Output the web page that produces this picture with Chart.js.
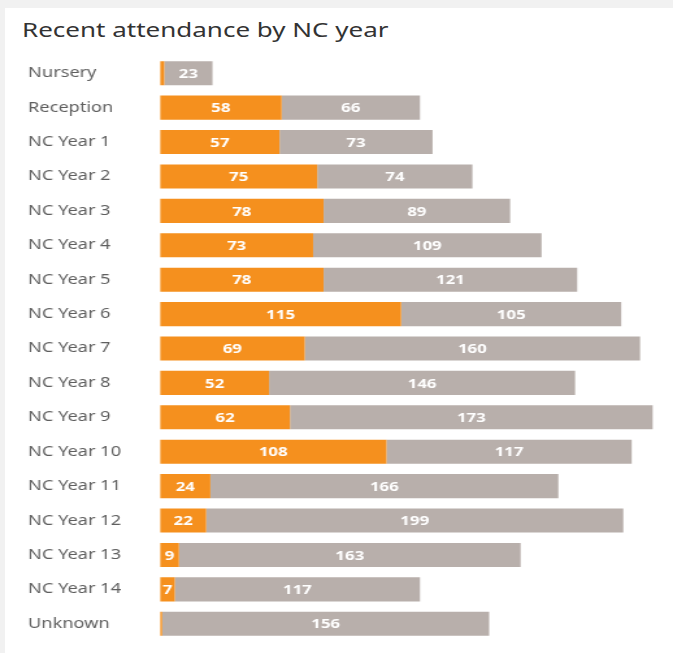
<!DOCTYPE html>
<html>
<head>
<meta charset="utf-8">
<script src="https://cdn.jsdelivr.net/npm/chart.js@4"></script>
<style>
    html, body { margin: 0; padding: 0; }
    body { width: 673px; height: 653px; background: #f1f1f1; position: relative; overflow: hidden; }
    #card { position: absolute; left: 5px; top: 8px; right: 0; bottom: 0; background: #fff; }
    #titulo { position: absolute; left: 22px; top: 16px; font-family: "Noto Sans", sans-serif; font-size: 20px; color: #333;
              transform: scaleX(1.3); transform-origin: 0 0; white-space: nowrap; }
    /* o original está esticado na horizontal, por isso esticamos o canvas */
    #grafico { position: absolute; left: 0; top: 0; }
</style>
</head>
<body>
<div id="card"></div>
<div id="titulo">Recent attendance by NC year</div>
<canvas id="grafico" width="518" height="653" style="width:673px;height:653px"></canvas>
<script>
// Categorias (anos NC)
const categorias = ["Nursery", "Reception", "NC Year 1", "NC Year 2", "NC Year 3", "NC Year 4",
    "NC Year 5", "NC Year 6", "NC Year 7", "NC Year 8", "NC Year 9", "NC Year 10",
    "NC Year 11", "NC Year 12", "NC Year 13", "NC Year 14", "Unknown"];

// Série laranja
const laranja = [2, 58, 57, 75, 78, 73, 78, 115, 69, 52, 62, 108, 24, 22, 9, 7, 1];

// Série cinzenta
const cinzento = [23, 66, 73, 74, 89, 109, 121, 105, 160, 146, 173, 117, 166, 199, 163, 117, 156];

// Plugin simples para escrever os valores dentro das barras
const rotulos = {
    id: 'rotulos',
    afterDatasetsDraw(chart) {
        const ctx = chart.ctx;
        ctx.save();
        ctx.font = 'bold 13px "Open Sans", sans-serif';
        ctx.fillStyle = '#ffffff';
        ctx.textBaseline = 'middle';
        chart.data.datasets.forEach((ds, i) => {
            chart.getDatasetMeta(i).data.forEach((bar, j) => {
                let v = ds.data[j];
                if (v < 5) return;
                let w = Math.abs(bar.x - bar.base);
                let txt = String(v);
                if (ctx.measureText(txt).width > w - 3) {
                    ctx.textAlign = 'left';
                    ctx.fillText(txt, Math.min(bar.x, bar.base) + 0.5, bar.y + 1);
                } else {
                    ctx.textAlign = 'center';
                    ctx.fillText(txt, (bar.x + bar.base) / 2, bar.y + 1);
                }
            });
        });
        ctx.restore();
    }
};

new Chart(document.getElementById('grafico'), {
    type: 'bar',
    data: {
        labels: categorias,
        datasets: [
            { data: laranja, backgroundColor: '#f5901e', categoryPercentage: 1, barPercentage: 0.7 },
            { data: cinzento, backgroundColor: '#b8afab', categoryPercentage: 1, barPercentage: 0.7 }
        ]
    },
    options: {
        indexAxis: 'y',
        responsive: false,
        animation: false,
        devicePixelRatio: 1,
        layout: {
            padding: { left: 21.6, right: 7.6, top: 56, bottom: 12 }
        },
        plugins: {
            legend: { display: false },
            tooltip: { enabled: false }
        },
        scales: {
            x: {
                stacked: true,
                display: false,
                min: 0,
                max: 240
            },
            y: {
                stacked: true,
                grid: { display: false },
                border: { display: false },
                afterFit(scale) { scale.width = 101.6; },
                ticks: {
                    crossAlign: 'far',
                    color: '#5f5f5f',
                    font: { family: '"Noto Sans", sans-serif', size: 14 }
                }
            }
        }
    },
    plugins: [rotulos]
});
</script>
</body>
</html>
